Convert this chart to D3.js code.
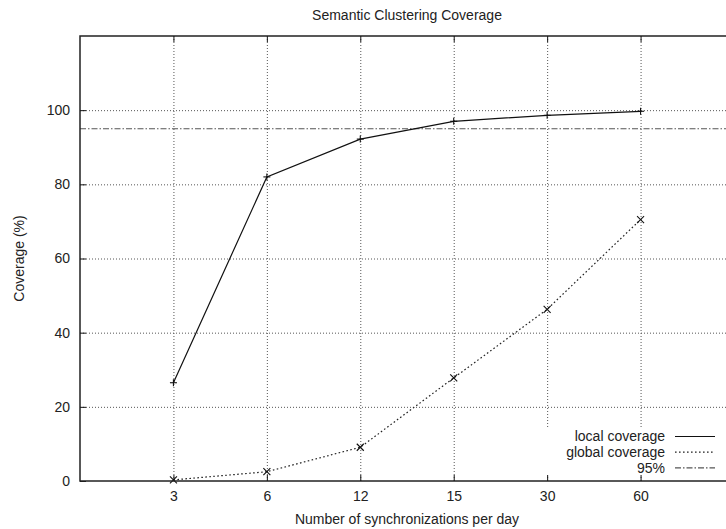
<!DOCTYPE html>
<html>
<head>
<meta charset="utf-8">
<script src="https://cdn.jsdelivr.net/npm/d3@7"></script>
<style>
  html, body { margin: 0; padding: 0; background: #fff; }
  svg { display: block; font-family: "Liberation Sans", Arial, Helvetica, sans-serif; }
</style>
</head>
<body>
<svg id="chart" width="726" height="529"></svg>
<script>
const categories = ["3", "6", "12", "15", "30", "60"];
const localCoverage = [26.5, 82.0, 92.2, 97.0, 98.6, 99.7];
const globalCoverage = [0.3, 2.5, 9.1, 27.8, 46.3, 70.5];
const threshold = 95;
const yTicks = [0, 20, 40, 60, 80, 100];
const title = "Semantic Clustering Coverage";
const xTitle = "Number of synchronizations per day";
const yTitle = "Coverage (%)";
const legendLabels = ["local coverage", "global coverage", "95%"];

const svg = d3.select("#chart");
const L = 80, R = 734, T = 36, B = 481;
const x = d3.scaleLinear().domain([0, categories.length + 1]).range([L, R]);
const y = d3.scaleLinear().domain([0, 120]).range([B, T]);
const xi = categories.map((c, i) => i + 1);

// grid
const gridStyle = g => g.selectAll("line").attr("stroke", "#555").attr("stroke-width", 1).attr("stroke-dasharray", "1,2");
svg.append("g").attr("transform", `translate(0,${B})`)
  .call(d3.axisBottom(x).tickValues(xi).tickSize(-(B - T)).tickFormat(""))
  .call(g => g.select(".domain").remove()).call(gridStyle);
svg.append("g").attr("transform", `translate(${L},0)`)
  .call(d3.axisLeft(y).tickValues(yTicks.filter(v => v > 0)).tickSize(-(R - L)).tickFormat(""))
  .call(g => g.select(".domain").remove()).call(gridStyle);

// 95% line
svg.append("line")
  .attr("x1", L).attr("x2", R).attr("y1", y(threshold)).attr("y2", y(threshold))
  .attr("stroke", "#555").attr("stroke-width", 1.1).attr("stroke-dasharray", "6,2,1.5,2");

// lines
const line = d3.line().x((d, i) => x(xi[i])).y(d => y(d));
svg.append("path").datum(localCoverage).attr("d", line)
  .attr("fill", "none").attr("stroke", "#111").attr("stroke-width", 1.2);
svg.append("path").datum(globalCoverage).attr("d", line)
  .attr("fill", "none").attr("stroke", "#222").attr("stroke-width", 1.2).attr("stroke-dasharray", "1.6,2.4");

// markers
const m = 3.5;
const plus = svg.append("g").attr("stroke", "#111").attr("stroke-width", 1.1);
localCoverage.forEach((v, i) => {
  const cx = x(xi[i]), cy = y(v);
  plus.append("line").attr("x1", cx - m).attr("x2", cx + m).attr("y1", cy).attr("y2", cy);
  plus.append("line").attr("x1", cx).attr("x2", cx).attr("y1", cy - m).attr("y2", cy + m);
});
const cross = svg.append("g").attr("stroke", "#111").attr("stroke-width", 1.1);
globalCoverage.forEach((v, i) => {
  const cx = x(xi[i]), cy = y(v);
  cross.append("line").attr("x1", cx - m).attr("x2", cx + m).attr("y1", cy - m).attr("y2", cy + m);
  cross.append("line").attr("x1", cx - m).attr("x2", cx + m).attr("y1", cy + m).attr("y2", cy - m);
});

// legend background
svg.append("rect").attr("x", 542).attr("y", 427).attr("width", 200).attr("height", 50).attr("fill", "#fff");

// axes with inward ticks
const axisStyle = g => {
  g.select(".domain").remove();
  g.selectAll("line").attr("stroke", "#111").attr("stroke-width", 1);
  g.selectAll("text").attr("fill", "#222").style("font-size", "14px").style("font-family", "'Liberation Sans', Arial, sans-serif");
};
svg.append("g").attr("transform", `translate(0,${B})`)
  .call(d3.axisBottom(x).tickValues(xi).tickSize(-6).tickPadding(10).tickFormat(d => categories[d - 1]))
  .call(axisStyle);
svg.append("g").attr("transform", `translate(0,${T})`)
  .call(d3.axisTop(x).tickValues(xi).tickSize(-6).tickFormat(""))
  .call(axisStyle);
svg.append("g").attr("transform", `translate(${L},0)`)
  .call(d3.axisLeft(y).tickValues(yTicks).tickSize(-6).tickPadding(10))
  .call(axisStyle);

// border
svg.append("rect").attr("x", L).attr("y", T).attr("width", R - L).attr("height", B - T)
  .attr("fill", "none").attr("stroke", "#222").attr("stroke-width", 1.5);

// titles
svg.append("text").attr("x", (L + R) / 2).attr("y", 20).attr("text-anchor", "middle")
  .style("font-size", "14px").attr("fill", "#222").text(title);
svg.append("text").attr("x", (L + R) / 2).attr("y", 524).attr("text-anchor", "middle")
  .style("font-size", "14px").attr("fill", "#222").text(xTitle);
svg.append("text").attr("transform", `translate(24,${(T + B) / 2}) rotate(-90)`).attr("text-anchor", "middle")
  .style("font-size", "14px").attr("fill", "#222").text(yTitle);

// legend entries
const legendStyles = [
  { dash: null, color: "#111" },
  { dash: "1.6,2.4", color: "#222" },
  { dash: "6,2,1.5,2", color: "#555" }
];
legendLabels.forEach((lab, i) => {
  const cy = 436.5 + i * 15.7;
  svg.append("text").attr("x", 665).attr("y", cy).attr("dy", "0.35em").attr("text-anchor", "end")
    .style("font-size", "14px").attr("fill", "#222").text(lab);
  svg.append("line").attr("x1", 675).attr("x2", 715).attr("y1", cy).attr("y2", cy)
    .attr("stroke", legendStyles[i].color).attr("stroke-width", 1.2)
    .attr("stroke-dasharray", legendStyles[i].dash);
});
</script>
</body>
</html>
